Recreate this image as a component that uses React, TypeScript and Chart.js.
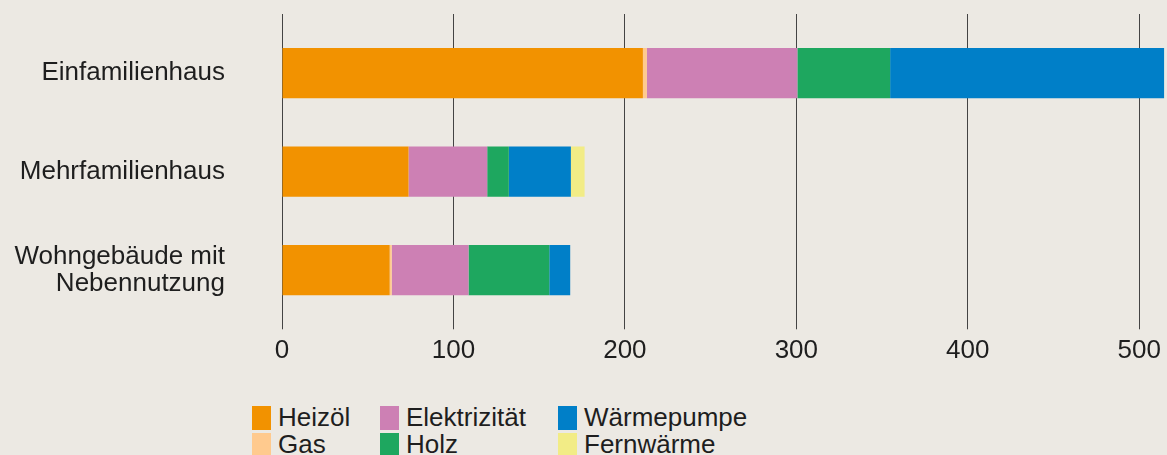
import React, { useEffect, useRef } from 'react';
import { Chart, registerables } from 'chart.js';

Chart.register(...registerables);

const categories: (string | string[])[] = [
  'Einfamilienhaus',
  'Mehrfamilienhaus',
  ['Wohngebäude mit', 'Nebennutzung'],
];
const seriesNames = ['Heizöl', 'Gas', 'Elektrizität', 'Holz', 'Wärmepumpe', 'Fernwärme'];
const heizoel = [210.5, 73.8, 62.8];
const gas = [2.3, 0, 1.2];
const elektrizitaet = [87.8, 45.9, 44.8];
const holz = [54.1, 12.6, 47.1];
const waermepumpe = [190, 36.2, 12.2];
const fernwaerme = [0, 8.0, 0];
const seriesColors = ['#F29200', '#FFCA8E', '#CD80B4', '#1EA75F', '#007FC8', '#F2EC86'];
const xMin = 0;
const xMax = 514.5;
const xStep = 100;

const BG = '#ECE9E3';
const TEXT = '#1e1e1e';
const GRID = '#444444';
const FONT = "'Liberation Sans', Arial, Helvetica, sans-serif";

export default function App() {
  const canvasRef = useRef<HTMLCanvasElement | null>(null);

  useEffect(() => {
    if (!canvasRef.current) return;
    const seriesValues = [heizoel, gas, elektrizitaet, holz, waermepumpe, fernwaerme];
    const chart = new Chart(canvasRef.current, {
      type: 'bar',
      data: {
        labels: categories as any,
        datasets: seriesNames.map((name, i) => ({
          label: name,
          data: seriesValues[i],
          backgroundColor: seriesColors[i],
          borderWidth: 0,
          categoryPercentage: 1,
          barPercentage: 0.51,
          xAxisID: 'x',
          yAxisID: 'y',
        })),
      },
      options: {
        indexAxis: 'y',
        animation: false,
        responsive: true,
        maintainAspectRatio: false,
        layout: { padding: { top: 14, bottom: 7.5, left: 0, right: 0 } },
        plugins: {
          legend: { display: false },
          tooltip: { enabled: false },
        },
        scales: {
          x: {
            type: 'linear',
            position: 'bottom',
            stacked: true,
            min: xMin,
            max: xMax,
            border: { display: false },
            grid: { color: GRID, lineWidth: 1, tickLength: 10, drawTicks: true },
            ticks: {
              stepSize: xStep,
              includeBounds: false,
              color: TEXT,
              padding: 6,
              font: { family: FONT, size: 26, lineHeight: 1.2 },
            },
          },
          x2: {
            type: 'linear',
            position: 'top',
            min: xMin,
            max: xMax,
            border: { display: false },
            grid: { color: GRID, lineWidth: 1, tickLength: 10, drawTicks: true, drawOnChartArea: false },
            ticks: { stepSize: xStep, includeBounds: false, display: false },
          },
          y: {
            type: 'category',
            stacked: true,
            offset: true,
            border: { display: false },
            grid: { display: false, drawTicks: false },
            ticks: {
              color: TEXT,
              padding: 57,
              font: { family: FONT, size: 26, lineHeight: 1.04 },
            },
            afterFit: (scale: any) => {
              scale.width = 282;
              scale.paddingTop = 0;
              scale.paddingBottom = 0;
            },
          },
        },
      } as any,
    });
    return () => chart.destroy();
  }, []);

  const colX = [252, 380, 558];
  const rowY = [404, 431];

  return (
    <div
      style={{
        position: 'fixed',
        left: 0,
        top: 0,
        width: 1167,
        height: 455,
        background: BG,
        overflow: 'hidden',
        fontFamily: FONT,
      }}
    >
      <div style={{ position: 'absolute', left: 0, top: 0, width: 1167, height: 380 }}>
        <canvas ref={canvasRef} />
      </div>
      {seriesNames.map((name, i) => {
        const col = Math.floor(i / 2);
        const row = i % 2;
        return (
          <div
            key={name}
            style={{
              position: 'absolute',
              left: colX[col],
              top: rowY[row],
              height: 27,
              lineHeight: '27px',
              fontSize: 26,
              color: TEXT,
              whiteSpace: 'nowrap',
            }}
          >
            <span
              style={{
                position: 'absolute',
                left: 0,
                top: 2,
                width: 19,
                height: 24,
                background: seriesColors[i],
              }}
            />
            <span style={{ position: 'absolute', left: 26, top: 0 }}>{name}</span>
          </div>
        );
      })}
    </div>
  );
}
